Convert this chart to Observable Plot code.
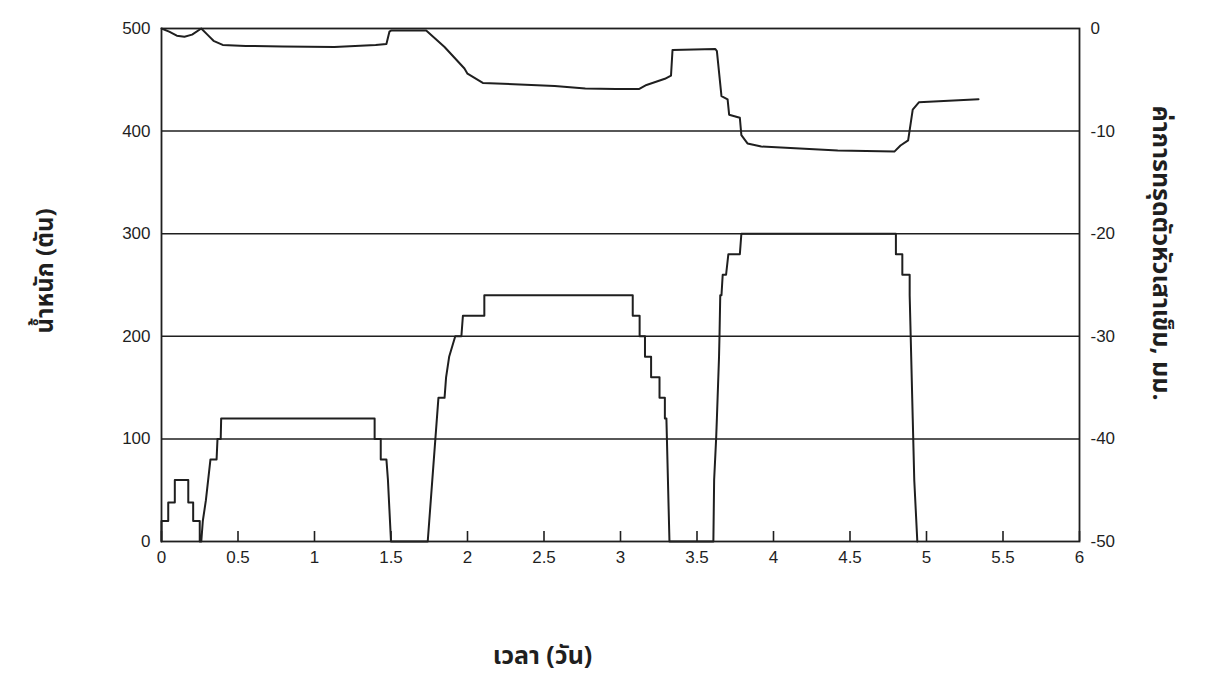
<!DOCTYPE html>
<html><head><meta charset="utf-8">
<script src="https://cdn.jsdelivr.net/npm/d3@7"></script>
<script src="https://cdn.jsdelivr.net/npm/@observablehq/plot@0.6"></script>
<style>
html,body{margin:0;padding:0;background:#fff;}
#chart svg{display:block}
</style></head><body><div id="chart"></div>
<script>
// Load (tons) vs time (days) — polyline vertices
const loadTime = [0,0,0.044,0.044,0.087,0.087,0.175,0.175,0.207,0.207,0.25,0.25,
  0.26,0.27,0.29,0.305,0.32,0.36,0.366,0.387,0.39,1.393,1.393,1.433,1.433,1.47,1.48,1.50,
  1.74,1.75,1.77,1.79,1.80,1.81,1.85,1.86,1.88,1.92,1.96,1.97,2.11,2.11,
  3.08,3.08,3.125,3.125,3.16,3.16,3.20,3.20,3.255,3.255,3.29,3.29,3.30,3.31,3.32,
  3.607,3.612,3.625,3.63,3.644,3.647,3.652,3.66,3.668,3.69,3.705,3.78,3.79,
  4.80,4.80,4.842,4.842,4.89,4.89,4.90,4.91,4.92,4.94];
const loadTons = [0,20,20,38,38,60,60,38,38,20,20,0,
  0,20,40,60,80,80,100,100,120,120,100,100,80,80,60,0,
  0,20,60,100,120,140,140,160,180,200,200,220,220,240,
  240,220,220,200,200,180,180,160,160,140,140,120,120,60,0,
  0,60,100,120,180,200,240,240,260,260,280,280,300,
  300,280,280,260,260,240,180,120,60,0];

// Pile head settlement (mm) vs time (days)
const settleTime = [0,0.05,0.10,0.15,0.20,0.26,0.30,0.34,0.40,0.55,0.79,1.13,1.40,1.47,1.49,1.50,1.73,
  1.85,1.98,2.00,2.10,2.57,2.77,2.97,3.12,3.17,3.29,3.33,3.34,3.62,3.63,3.66,3.70,3.71,3.78,3.79,3.83,3.92,
  4.42,4.79,4.83,4.88,4.91,4.95,5.34];
const settleMm = [0,-0.3,-0.7,-0.8,-0.6,0,-0.6,-1.2,-1.6,-1.7,-1.75,-1.8,-1.6,-1.5,-0.3,-0.2,-0.2,
  -1.8,-3.9,-4.4,-5.3,-5.6,-5.85,-5.9,-5.9,-5.5,-4.9,-4.6,-2.1,-2.0,-2.2,-6.6,-6.9,-8.4,-8.7,-10.4,-11.2,-11.5,
  -11.9,-12.0,-11.4,-10.9,-7.9,-7.2,-6.9];

const xTicks = [0,0.5,1,1.5,2,2.5,3,3.5,4,4.5,5,5.5,6];
const xTickLabels = ["0","0.5","1","1.5","2","2.5","3","3.5","4","4.5","5","5.5","6"];
const loadTicks = [0,100,200,300,400,500];
const gridLoads = [100,200,300,400];
const settleTicks = [0,-10,-20,-30,-40,-50];

const xLabel = "เวลา (วัน)";
const yLabelLeft = "น้ำหนัก (ตัน)";
const yLabelRight = "ค่าการทรุดตัวหัวเสาเข็ม, มม.";

const loadRows = loadTime.map((t,i)=>({t, L: loadTons[i]}));
const settleRows = settleTime.map((t,i)=>({t, s: settleMm[i]}));
// settlement axis 0..-50 shares the vertical extent of load 500..0
const s2y = s => 500 + s*10;

const ink = "#1f1f1f";
const thaiFont = "'Noto Sans Thai','Noto Sans','DejaVu Sans',sans-serif";

const chart = Plot.plot({
  width: 1227, height: 680,
  marginLeft: 161, marginRight: 148, marginTop: 28, marginBottom: 139,
  x: {domain: [0,6]},
  y: {domain: [0,500]},
  style: {fontFamily: "'Liberation Sans', Arial, sans-serif", fontSize: "17px", color: ink, background: "#fff"},
  marks: [
    Plot.ruleY(gridLoads, {y: d=>d, stroke: ink, strokeWidth: 1.5}),
    Plot.frame({stroke: ink, strokeWidth: 1.8}),
    Plot.axisY(loadTicks, {anchor: "left", tickSize: 0, tickPadding: 11, label: null}),
    Plot.axisY(settleTicks.map(s2y), {anchor: "right", tickSize: 0, tickPadding: 11, label: null,
      tickFormat: d => String(settleTicks[settleTicks.map(s2y).indexOf(d)])}),
    Plot.axisX(xTicks, {anchor: "bottom", tickSize: -10, tickPadding: 19, label: null, strokeWidth: 1.6,
      tickFormat: d => xTickLabels[xTicks.indexOf(d)]}),
    Plot.line(loadRows, {x: "t", y: "L", stroke: ink, strokeWidth: 2}),
    Plot.line(settleRows, {x: "t", y: d => s2y(d.s), stroke: ink, strokeWidth: 2}),
    Plot.text([xLabel], {frameAnchor: "bottom", textAnchor: "middle", dx: -78, dy: 122, fontFamily: thaiFont, fontSize: 25, fontWeight: "bold", fill: ink}),
    Plot.text([yLabelLeft], {frameAnchor: "left", textAnchor: "middle", dx: -116, dy: -14, rotate: -90, fontFamily: thaiFont, fontSize: 24, fontWeight: "bold", fill: ink}),
    Plot.text([yLabelRight], {frameAnchor: "right", textAnchor: "middle", dx: 81, dy: -32, rotate: 90, fontFamily: thaiFont, fontSize: 25, fontWeight: "bold", fill: ink})
  ]
});
document.getElementById("chart").appendChild(chart);
</script></body></html>
